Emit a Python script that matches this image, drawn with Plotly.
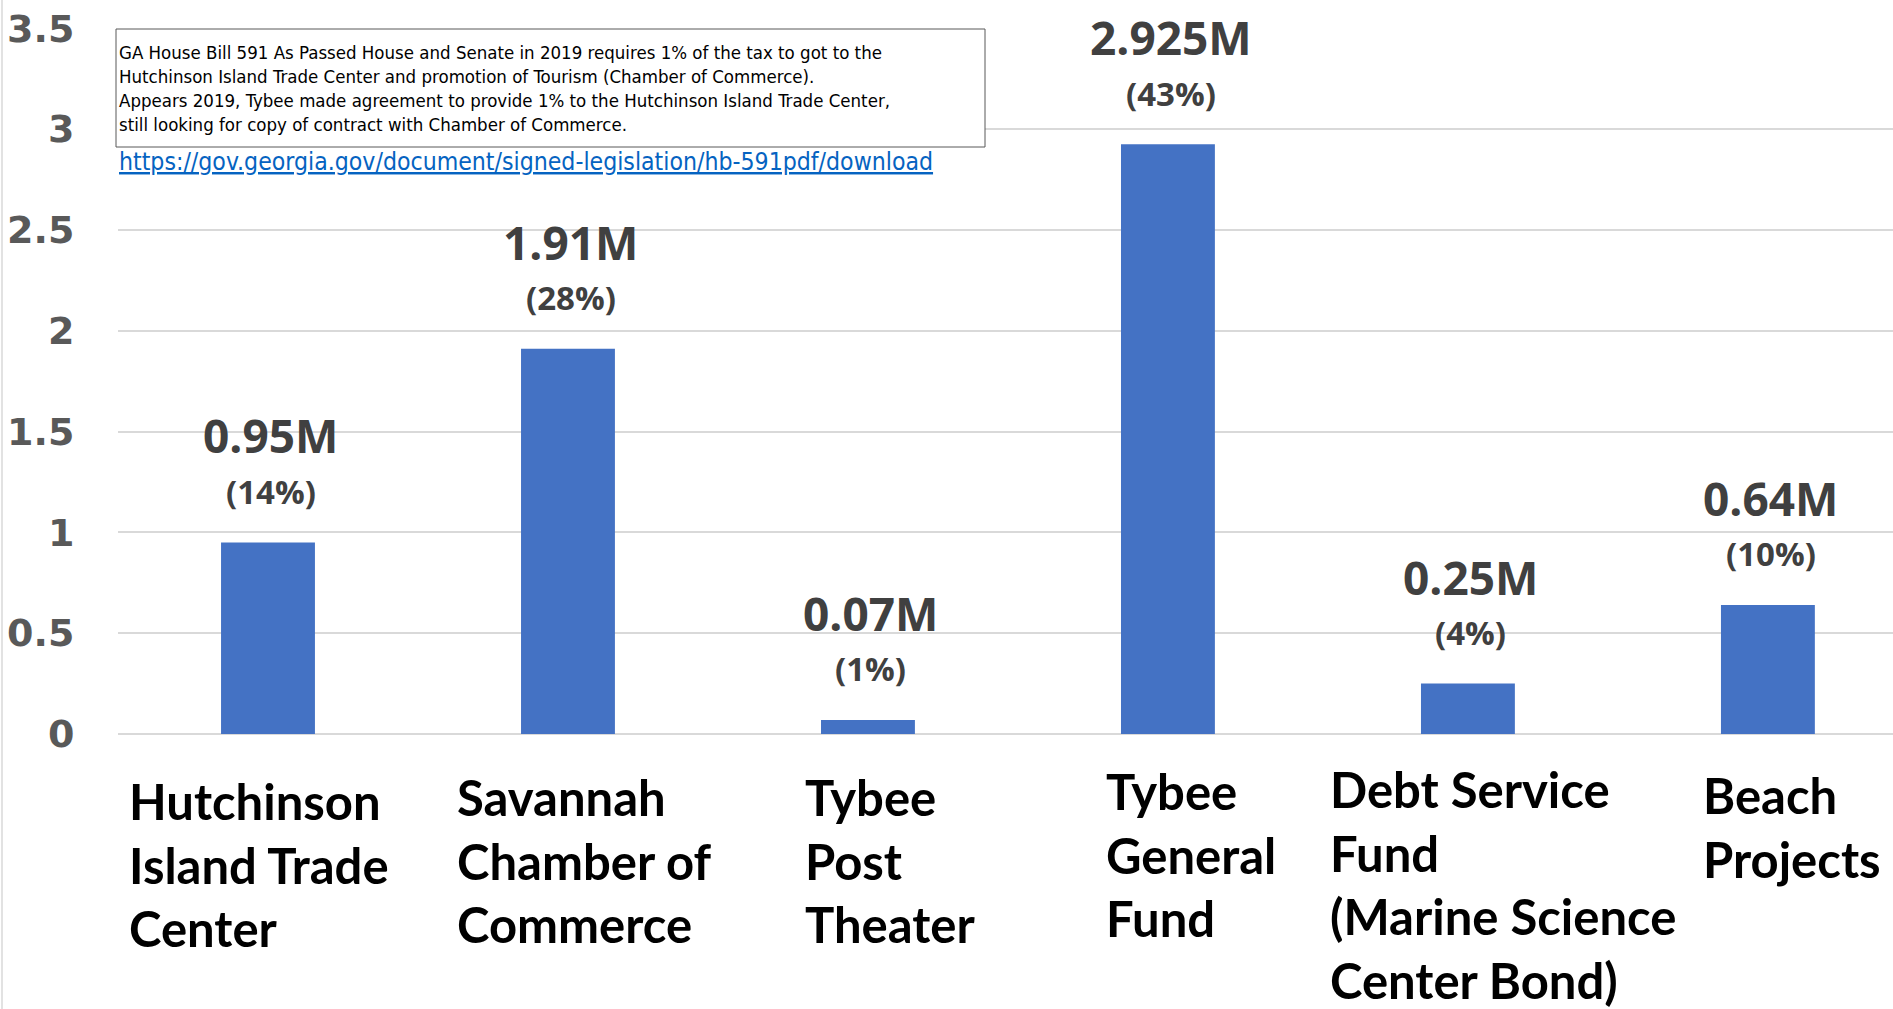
import plotly.graph_objects as go

categories = [
    "Hutchinson<br>Island Trade<br>Center",
    "Savannah<br>Chamber of<br>Commerce",
    "Tybee<br>Post<br>Theater",
    "Tybee<br>General<br>Fund",
    "Debt Service<br>Fund<br>(Marine Science<br>Center Bond)",
    "Beach<br>Projects",
]
values = [0.95, 1.91, 0.07, 2.925, 0.25, 0.64]
value_labels = ["0.95M", "1.91M", "0.07M", "2.925M", "0.25M", "0.64M"]
pct_labels = ["(14%)", "(28%)", "(1%)", "(43%)", "(4%)", "(10%)"]
y_ticks = [0, 0.5, 1, 1.5, 2, 2.5, 3, 3.5]
y_tick_text = ["0", "0.5", "1", "1.5", "2", "2.5", "3", "3.5"]

note_lines = [
    "GA House Bill 591 As Passed House and Senate in 2019 requires 1% of the tax to got to the",
    "Hutchinson Island Trade Center and promotion of Tourism (Chamber of Commerce).",
    "Appears 2019, Tybee made agreement to provide 1% to the Hutchinson Island Trade Center,",
    "still looking for copy of contract with Chamber of Commerce.",
]
link_text = "https://gov.georgia.gov/document/signed-legislation/hb-591pdf/download"

# category label placement tweaks (pixels)
label_dx = [-9, 17, 22, 23, 35, 24]
label_dy = [-36, -32, -32, -26, -24, -30]

W, H = 1893, 1009
ML, MR, MT, MB = 118, 0, 28, 275
PW, PH = W - ML - MR, H - MT - MB

def px_x(x):
    return (x - ML) / PW

def px_y(y):
    return (H - MB - y) / PH

narrow = "Liberation Sans Narrow, DejaVu Sans Condensed, Open Sans, sans-serif"
wide = "Open Sans, Noto Sans, sans-serif"
cat_font = "Lato, Roboto, sans-serif"
tick_font = "DejaVu Sans, Open Sans, sans-serif"

fig = go.Figure()
fig.add_trace(go.Bar(
    x=categories, y=values,
    marker=dict(color="#4472C4", line=dict(width=0)),
    hoverinfo="skip",
))

annotations = []
for c, v, vl, pl, dx, dy in zip(categories, values, value_labels, pct_labels, label_dx, label_dy):
    annotations.append(dict(x=c, y=v, xref="x", yref="y", text="<b>%s</b>" % pl,
                            showarrow=False, yanchor="middle", yshift=51, xshift=3,
                            font=dict(family=wide, size=33, color="#404040")))
    annotations.append(dict(x=c, y=v, xref="x", yref="y", text="<b>%s</b>" % vl,
                            showarrow=False, yanchor="middle", yshift=107, xshift=3,
                            font=dict(family=wide, size=46, color="#404040")))
    annotations.append(dict(x=c, y=0, xref="x", yref="paper", text="<b>%s</b>" % c,
                            showarrow=False, yanchor="top", xanchor="center", align="left",
                            yshift=dy, xshift=dx,
                            font=dict(family=cat_font, size=49, color="#000000")))

annotations.append(dict(x=px_x(117), y=px_y(40), xref="paper", yref="paper",
                        text="<br>".join(note_lines), showarrow=False,
                        xanchor="left", yanchor="top", align="left",
                        font=dict(family=narrow, size=18.5, color="#000000")))
annotations.append(dict(x=px_x(117), y=px_y(161), xref="paper", yref="paper",
                        text="<u>%s</u>" % link_text, showarrow=False,
                        xanchor="left", yanchor="middle", align="left",
                        font=dict(family=narrow, size=24.6, color="#0563C1")))

shapes = [
    dict(type="rect", xref="paper", yref="paper",
         x0=px_x(116), x1=px_x(985), y0=px_y(147), y1=px_y(29),
         line=dict(color="#595959", width=1), fillcolor="rgba(255,255,255,1)", layer="above"),
    dict(type="line", xref="paper", yref="paper",
         x0=px_x(2), x1=px_x(2), y0=px_y(H), y1=px_y(0),
         line=dict(color="#d9d9d9", width=1.5)),
]

fig.update_layout(
    width=W, height=H,
    margin=dict(l=ML, r=MR, t=MT, b=MB, pad=0, autoexpand=False),
    paper_bgcolor="white", plot_bgcolor="white",
    bargap=0.687,
    showlegend=False,
    annotations=annotations,
    shapes=shapes,
    xaxis=dict(showticklabels=False, showgrid=False, zeroline=False, showline=False,
               ticks="", range=[-0.5, 5.417], automargin=False),
    yaxis=dict(range=[0, 3.501], tickvals=y_ticks, ticktext=y_tick_text, automargin=False,
               showgrid=True, gridcolor="#d9d9d9", gridwidth=1.5,
               zeroline=True, zerolinecolor="#d9d9d9", zerolinewidth=1.5,
               showline=False, ticks="outside", ticklen=35, tickcolor="rgba(0,0,0,0)",
               tickfont=dict(family=tick_font, size=38, color="#595959", weight="bold")),
)

fig.write_html("out.html", config={"displayModeBar": False},
               post_script="document.body.style.margin='0';document.body.style.overflow='hidden';")
